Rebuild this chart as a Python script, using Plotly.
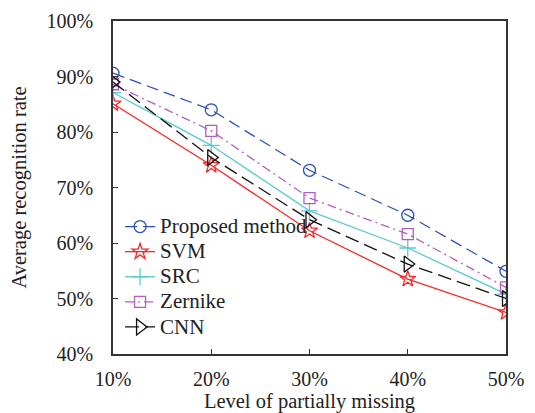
import plotly.graph_objects as go

levels = [10, 20, 30, 40, 50]
proposed = [90.6, 84.0, 73.1, 65.0, 54.9]
svm = [85.1, 74.0, 62.2, 53.5, 47.5]
src = [87.1, 77.6, 65.8, 59.1, 50.8]
zernike = [88.6, 80.2, 68.1, 61.6, 52.0]
cnn = [89.0, 75.4, 64.2, 56.2, 50.0]
xticks = ["10%", "20%", "30%", "40%", "50%"]
yticks = ["40%", "50%", "60%", "70%", "80%", "90%", "100%"]

series = [
    ("Proposed method", proposed, "#2a52b8", "12px,6px", "circle-open", 12),
    ("SVM", svm, "#f52a2a", "solid", "star-open", 12),
    ("SRC", src, "#5cc8d0", "solid", "cross-thin-open", 12),
    ("Zernike", zernike, "#b25ec0", "9px,4px,2px,4px", "square-open", 11),
    ("CNN", cnn, "#111111", "14px,6px", "triangle-right-open", 14),
]

FAM = "Liberation Serif"
fig = go.Figure()
for name, vals, color, dash, sym, size in series:
    fig.add_trace(go.Scatter(
        x=levels, y=vals, mode="lines+markers",
        name='<span style="font-size:21px">' + name + '</span>',
        line=dict(color=color, width=1.3, dash=dash),
        marker=dict(symbol=sym, size=size, color=color, line=dict(color=color, width=1.3)),
    ))

# page body has an 8px default margin, so the figure is offset by 8px
fig.update_layout(
    width=527, height=405,
    margin=dict(l=105, r=29, t=13, b=59),
    paper_bgcolor="white", plot_bgcolor="white",
    font=dict(family=FAM, size=20, color="#222"),
    showlegend=True,
    legend=dict(x=0.018, y=0.027, xanchor="left", yanchor="bottom",
                bgcolor="rgba(0,0,0,0)", font=dict(size=17, family=FAM, color="#222"),
                tracegroupgap=0, itemwidth=30),
)
fig.update_xaxes(
    range=[10, 50], tickvals=levels, ticktext=xticks,
    showgrid=False, zeroline=False, automargin=False,
    showline=True, linecolor="#333", linewidth=1.5, mirror=True,
    ticks="inside", ticklen=5, tickcolor="#333", ticklabelstandoff=6,
    title=dict(text="Level of partially missing", font=dict(size=20.5, family=FAM), standoff=14),
    tickfont=dict(size=20, family=FAM),
)
fig.update_yaxes(
    range=[40, 100], tickvals=[40, 50, 60, 70, 80, 90, 100], ticktext=yticks,
    showgrid=False, zeroline=False, automargin=False,
    showline=True, linecolor="#333", linewidth=1.5, mirror=True,
    ticks="inside", ticklen=5, tickcolor="#333", ticklabelstandoff=14,
    title=dict(text="Average recognition rate", font=dict(size=20.5, family=FAM), standoff=14),
    tickfont=dict(size=20, family=FAM),
)
fig.write_html("out.html")
